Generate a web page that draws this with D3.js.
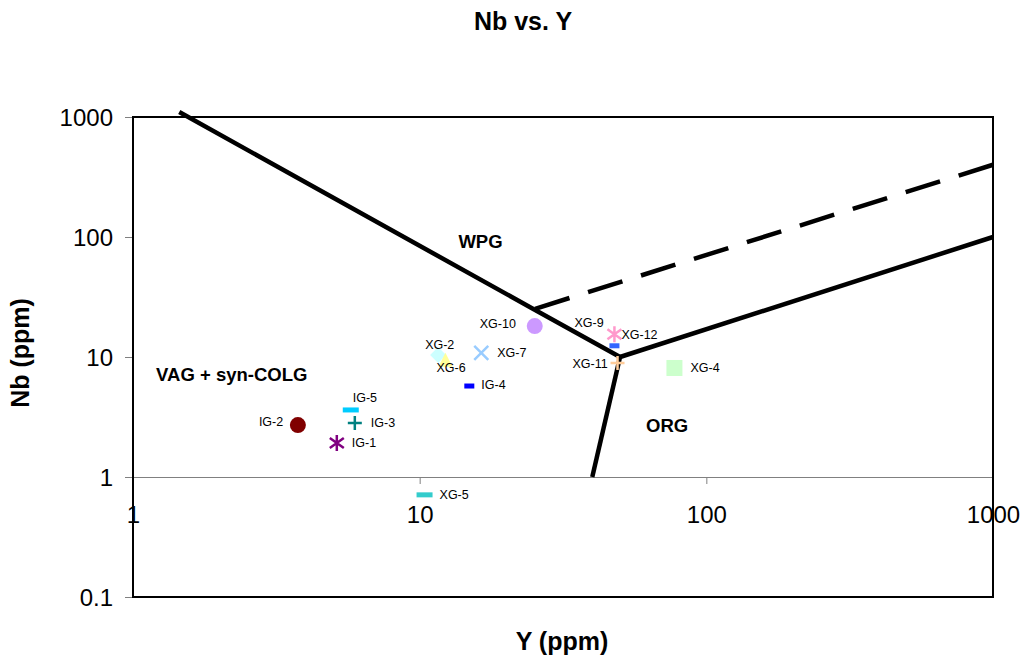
<!DOCTYPE html>
<html>
<head>
<meta charset="utf-8">
<script src="https://cdn.jsdelivr.net/npm/d3@7/dist/d3.min.js"></script>
<style>
  body { margin: 0; background: #fff; }
  svg { display: block; font-family: "Liberation Sans", Arial, sans-serif; }
</style>
</head>
<body>
<svg id="chart" width="1028" height="662"></svg>
<script>
// Sample points, Y (ppm) vs Nb (ppm)
const SAMPLE_NAMES = ['IG-2', 'IG-5', 'IG-3', 'IG-1', 'XG-5', 'XG-2', 'XG-6', 'XG-7', 'IG-4', 'XG-10', 'XG-9', 'XG-12', 'XG-11', 'XG-4'];
const SAMPLE_Y = [3.76, 5.75, 5.94, 5.14, 10.4, 11.6, 12.3, 16.4, 14.9, 25.2, 47.8, 47.8, 49, 77.4];
const SAMPLE_NB = [2.71, 3.62, 2.82, 1.92, 0.71, 10.4, 9.3, 10.8, 5.73, 18.1, 15.5, 12.4, 8.9, 8.1];

// Discrimination boundaries (Pearce et al. 1984), [Y, Nb]
const WPG_VAG_LINE = [[1.45, 1100], [25, 25], [50, 10]];
const ORG_LINE = [[50, 10], [1000, 100]];
const VAG_ORG_LINE = [[50, 10], [40, 1]];
const WPG_ORG_DASHED = [[1000, 400], [25, 25]];

const FIELD_NAMES = ['WPG', 'VAG + syn-COLG', 'ORG'];
const FIELD_Y = [16.3, 2.21, 73];
const FIELD_NB = [81, 6.3, 2.37];

const X_TICKS = [1, 10, 100, 1000];
const Y_TICKS = [0.1, 1, 10, 100, 1000];

// marker style per sample: shape, colour, label offset
const STYLE = {
  'IG-2':  { shape: 'circle',   color: '#800000', lx: -39, ly: 1 },
  'IG-5':  { shape: 'dashWide', color: '#00ccff', lx: 2,   ly: -8 },
  'IG-3':  { shape: 'plus',     color: '#008080', lx: 16,  ly: 4 },
  'IG-1':  { shape: 'star',     color: '#800080', lx: 15,  ly: 4 },
  'XG-5':  { shape: 'dashWide', color: '#33cccc', lx: 15,  ly: 4 },
  'XG-2':  { shape: 'diamond',  color: '#ccffff', lx: -13, ly: -6 },
  'XG-6':  { shape: 'triangle', color: '#ffff99', lx: -9,  ly: 11 },
  'XG-7':  { shape: 'cross',    color: '#99ccff', lx: 16,  ly: 4 },
  'IG-4':  { shape: 'dash',     color: '#0000ff', lx: 12,  ly: 3 },
  'XG-10': { shape: 'circle',   color: '#cc99ff', lx: -55, ly: 2 },
  'XG-9':  { shape: 'star',     color: '#ff99cc', lx: -40, ly: -7 },
  'XG-12': { shape: 'dash',     color: '#3366ff', lx: 7,   ly: -7 },
  'XG-11': { shape: 'plus',     color: '#ffcc99', lx: -45, ly: 5 },
  'XG-4':  { shape: 'square',   color: '#ccffcc', lx: 16,  ly: 4 }
};

const svg = d3.select('#chart');
const plotL = 133, plotR = 993, plotT = 117, plotB = 597;

const x = d3.scaleLog().domain([1, 1000]).range([plotL, plotR]);
const y = d3.scaleLog().domain([0.1, 1000]).range([plotB, plotT]);

// title
svg.append('text')
  .attr('x', 523).attr('y', 30)
  .attr('text-anchor', 'middle')
  .style('font-size', '25px').style('font-weight', 'bold')
  .text('Nb vs. Y');

// axis titles
svg.append('text')
  .attr('x', 562).attr('y', 650)
  .attr('text-anchor', 'middle')
  .style('font-size', '25px').style('font-weight', 'bold')
  .text('Y (ppm)');

svg.append('text')
  .attr('transform', 'translate(29,353) rotate(-90)')
  .attr('text-anchor', 'middle')
  .style('font-size', '25px').style('font-weight', 'bold')
  .text('Nb (ppm)');

// y axis with gray outside ticks
const yAxis = svg.append('g')
  .attr('transform', `translate(${plotL},0)`)
  .call(d3.axisLeft(y).tickValues(Y_TICKS).tickSize(8).tickPadding(12).tickFormat(d3.format('~g')));
yAxis.select('.domain').remove();
yAxis.selectAll('line').attr('stroke', '#808080');
yAxis.selectAll('text')
  .attr('fill', '#000')
  .attr('dy', '0.36em')
  .style('font-size', '24px')
  .style('font-family', '"Liberation Sans", Arial, sans-serif');

// x axis crossing at Nb = 1
const xAxis = svg.append('g')
  .attr('transform', `translate(0,${y(1)})`)
  .call(d3.axisBottom(x).tickValues(X_TICKS).tickSize(7).tickPadding(22).tickFormat(d3.format('~g')));
xAxis.select('.domain').attr('stroke', '#808080').attr('d', `M${plotL},0.5H${plotR}`);
xAxis.selectAll('line').attr('stroke', '#808080');
xAxis.selectAll('text')
  .attr('fill', '#000')
  .style('font-size', '24px')
  .style('font-family', '"Liberation Sans", Arial, sans-serif');

// plot border
svg.append('rect')
  .attr('x', plotL).attr('y', plotT)
  .attr('width', plotR - plotL).attr('height', plotB - plotT)
  .attr('fill', 'none').attr('stroke', '#000').attr('stroke-width', 2);

// boundaries
const line = d3.line().x((d) => x(d[0])).y((d) => y(d[1]));
[WPG_VAG_LINE, ORG_LINE, VAG_ORG_LINE].forEach((pts) => {
  svg.append('path')
    .attr('d', line(pts))
    .attr('fill', 'none').attr('stroke', '#000')
    .attr('stroke-width', 4.5).attr('stroke-linejoin', 'miter');
});
svg.append('path')
  .attr('d', line(WPG_ORG_DASHED))
  .attr('fill', 'none').attr('stroke', '#000')
  .attr('stroke-width', 4.5)
  .attr('stroke-dasharray', '36,19.5');

// field labels
FIELD_NAMES.forEach((name, i) => {
  svg.append('text')
    .attr('x', x(FIELD_Y[i])).attr('y', y(FIELD_NB[i]))
    .attr('text-anchor', 'middle')
    .style('font-size', '18.5px').style('font-weight', 'bold')
    .text(name);
});

// markers
function drawMarker(g, shape, color) {
  switch (shape) {
    case 'circle':
      g.append('circle').attr('r', 8).attr('fill', color);
      break;
    case 'square':
      g.append('rect').attr('x', -8).attr('y', -8).attr('width', 16).attr('height', 16).attr('fill', color);
      break;
    case 'diamond':
      g.append('path').attr('d', 'M0,-8L8,0L0,8L-8,0Z').attr('fill', color);
      break;
    case 'triangle':
      g.append('path').attr('d', 'M0,-8L7,6L-7,6Z').attr('fill', color);
      break;
    case 'dash':
      g.append('rect').attr('x', -5).attr('y', -2.5).attr('width', 10).attr('height', 5).attr('fill', color);
      break;
    case 'dashWide':
      g.append('rect').attr('x', -8).attr('y', -2.5).attr('width', 16).attr('height', 5).attr('fill', color);
      break;
    case 'plus':
      g.append('path').attr('d', 'M-7,0H7M0,-7V7').attr('stroke', color).attr('stroke-width', 2.5);
      break;
    case 'cross':
      g.append('path').attr('d', 'M-7,-7L7,7M-7,7L7,-7').attr('stroke', color).attr('stroke-width', 2.5);
      break;
    case 'star':
      g.append('path').attr('d', 'M0,-8V8M-7,-5L7,5M-7,5L7,-5').attr('stroke', color).attr('stroke-width', 2.5);
      break;
  }
}

const ptsG = svg.append('g');
SAMPLE_NAMES.forEach((name, i) => {
  const s = STYLE[name];
  const g = ptsG.append('g').attr('transform', `translate(${x(SAMPLE_Y[i])},${y(SAMPLE_NB[i])})`);
  drawMarker(g, s.shape, s.color);
});
SAMPLE_NAMES.forEach((name, i) => {
  const s = STYLE[name];
  ptsG.append('text')
    .attr('x', x(SAMPLE_Y[i]) + s.lx)
    .attr('y', y(SAMPLE_NB[i]) + s.ly)
    .style('font-size', '12.5px')
    .text(name);
});
</script>
</body>
</html>
